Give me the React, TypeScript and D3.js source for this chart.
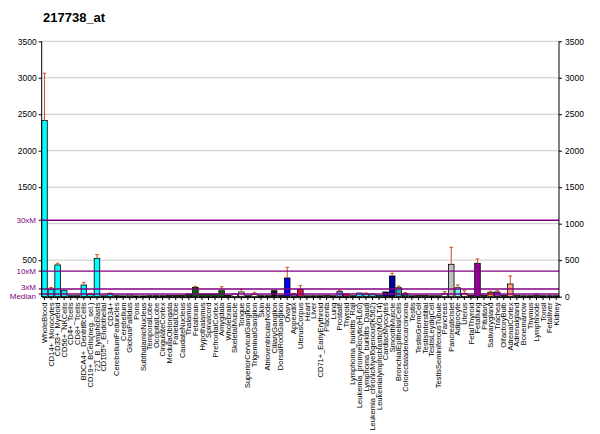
import React, { useEffect, useRef } from 'react'
import * as d3 from 'd3'

const title = '217738_at'

const tissues = [
  'WholeBlood', 'CD14+_Monocytes', 'CD33+_Myeloid', 'CD56+_NKCells', 'CD4+_Tcells', 'CD8+_Tcells',
  'BDCA4+_DentriticCells', 'CD19+_BCells(neg._sel.)', '721_B_lymphoblasts', 'CD105+_Endothelial', 'CD34+',
  'CerebellumPeduncles', 'Cerebellum', 'GlobusPallidus', 'Pons', 'SubthalamicNucleus', 'TemporalLobe',
  'OccipitalLobe', 'CingulateCortex', 'MedullaOblongata', 'ParietalLobe', 'CaudateNucleus', 'Thalamus',
  'Fetalbrain', 'Hypothalamus', 'Spinalcord', 'PrefrontalCortex', 'Amygdala', 'Wholebrain',
  'SkeletalMuscle', 'Tongue', 'SuperiorCervicalGanglion', 'TrigeminalGanglion', 'Skin',
  'AtrioventricularNode', 'CiliaryGanglion', 'DorsalRootGanglion', 'Ovary', 'Appendix', 'UterusCorpus',
  'Heart', 'Liver', 'CD71+_EarlyErythroid', 'Placenta', 'Lung', 'Prostate', 'Thyroid',
  'Lymphoma_burkitts_Raji', 'Leukemia_promyelocytic(HL60)', 'Lymphoma_burkitts_Daudi',
  'Leukemia_chronicMyelogenous(K562)', 'Leukemialymphoblastic(MOLT4)', 'CardiacMyocytes', 'SmoothMuscle',
  'BronchialEpithelialCells', 'Colorectaladenocarcinoma', 'Testis', 'TestisGermCell', 'TestisInterstitial',
  'TestisLeydigCell', 'TestisSeminiferousTubule', 'Pancreas', 'PancreaticIslet', 'Adipocyte', 'Uterus',
  'FetalThyroid', 'Fetallung', 'Pituitary', 'Salivarygland', 'Trachea', 'OlfactoryBulb', 'AdrenalCortex',
  'Adrenalgland', 'Bonemarrow', 'Thymus', 'Lymphnode', 'Tonsil', 'Fetalliver', 'Kidney',
]

const values = [
  2413, 100, 434, 81, 12, 12, 159, 31, 525, 12, 36,
  12, 10, 22, 10, 10, 12, 12, 12, 14, 14, 14, 36, 127, 36, 36, 36, 81, 17,
  36, 63, 12, 31, 12, 12, 81, 14, 255, 31, 100, 12, 12, 12, 17, 12, 68, 36,
  12, 49, 36, 26, 17, 63, 283, 122, 40, 12, 17, 17, 12, 12, 45, 443, 122, 45,
  17, 457, 17, 59, 63, 17, 173, 17, 12, 12, 17, 12, 12, 12,
]

// top of the error whisker, null where none is drawn
const errTops: (number | null)[] = [
  3063, 125, 457, null, null, null, 196, 45, 575, null, 49,
  null, null, null, null, null, null, null, null, null, null, null, null, 141, null, null, null, 136, null,
  null, 100, null, 59, null, null, null, null, 402, 45, 150, null, null, null, null, null, 85, null,
  null, null, 50, 40, null, null, 320, 145, 55, null, null, null, null, null, 68, 676, 159, 81,
  null, 516, 40, 75, 80, null, 283, null, null, null, 40, null, null, null,
]

const colors = [
  '#00FFFF', '#00FFFF', '#00FFFF', '#00FFFF', '#00FFFF', '#00FFFF', '#00FFFF', '#00FFFF', '#00FFFF', '#00FFFF', '#00FFFF',
  '#006600', '#006600', '#CC99CC', '#006600', '#006600', '#006600', '#006600', '#006600', '#006600', '#006600',
  '#006600', '#004400', '#006600', '#006600', '#006600', '#006600', '#006600', '#003300',
  '#FFFFFF', '#E6E0F0', '#333333', '#F0F0F0', '#222222', '#333333', '#111111', '#333333', '#0000FF',
  '#9933CC', '#DC143C', '#E8C8D0', '#B8A080', '#A0A0A0', '#B8860B', '#C8A8E0', '#6495ED', '#DC143C',
  '#00FFFF', '#00FFFF', '#40E0D0', '#00FFFF', '#00FFFF', '#000080', '#0000A0', '#20B2AA', '#006666',
  '#C8A8E0', '#808000', '#808000', '#C8A8E0', '#C8A8E0', '#E6E6FA', '#C0C0C0', '#66FFEE', '#FFE4B5',
  '#CC00CC', '#990099', '#228B22', '#FF9900', '#9933CC', '#800040', '#FFA07A', '#D2B48C', '#C8A8E0',
  '#C8A8E0', '#228B22', '#4169E1', '#9933CC', '#C8A8E0',
]

const leftTicks = [3500, 3000, 2500, 2000, 1500, 500]
const rightTicks = [3500, 3000, 2500, 2000, 1500, 1000, 500, 0]
const gridTicks = [500, 1000, 1500, 2000, 2500, 3000, 3500]

const median = 34.9
const refLines = [
  { label: 'Median', value: median, dy: 2 },
  { label: '3xM', value: median * 3, dy: -2 },
  { label: '10xM', value: median * 10, dy: 0 },
  { label: '30xM', value: median * 30, dy: 0 },
]

const font = '"Liberation Sans", Arial, sans-serif'
const purple = '#800080'

export default function App() {
  const svgRef = useRef<SVGSVGElement>(null)

  useEffect(() => {
    if (!svgRef.current) return
    const svg = d3.select(svgRef.current)
    svg.selectAll('*').remove()

    const left = 41.7
    const right = 559
    const top = 41.3
    const bottom = 296.6

    const x = d3.scaleBand().domain(tissues).range([left, right]).paddingInner(0.15).paddingOuter(0).align(0)
    const y = d3.scaleLinear().domain([0, 3500]).range([bottom, top])

    svg.append('text')
      .attr('x', 43)
      .attr('y', 22)
      .style('font-family', font)
      .style('font-size', '13px')
      .style('font-weight', 'bold')
      .text(title)

    // grid
    svg.append('g')
      .selectAll('line')
      .data(gridTicks)
      .join('line')
      .attr('x1', left)
      .attr('x2', right)
      .attr('y1', (d) => y(d))
      .attr('y2', (d) => y(d))
      .attr('stroke', '#C8C8C8')
      .attr('stroke-width', 1)

    // bars
    svg.append('g')
      .selectAll('rect')
      .data(tissues)
      .join('rect')
      .attr('x', (d) => x(d) || 0)
      .attr('y', (d, i) => y(values[i]))
      .attr('width', x.bandwidth())
      .attr('height', (d, i) => bottom - y(values[i]))
      .attr('fill', (d, i) => colors[i])
      .attr('stroke', '#000')
      .attr('stroke-width', 0.8)

    // error whiskers
    const errG = svg.append('g').attr('stroke', '#C8501E').attr('stroke-width', 1)
    tissues.forEach((t, i) => {
      const e = errTops[i]
      if (e == null) return
      const cx = (x(t) || 0) + x.bandwidth() / 2
      errG.append('line').attr('x1', cx).attr('x2', cx).attr('y1', y(values[i])).attr('y2', y(e))
      errG.append('line').attr('x1', cx - 1.8).attr('x2', cx + 1.8).attr('y1', y(e)).attr('y2', y(e))
    })

    // median multiples
    svg.append('g')
      .selectAll('line')
      .data(refLines)
      .join('line')
      .attr('x1', left)
      .attr('x2', right)
      .attr('y1', (d) => y(d.value))
      .attr('y2', (d) => y(d.value))
      .attr('stroke', purple)
      .attr('stroke-width', 1.4)

    svg.append('g')
      .selectAll('line')
      .data(refLines)
      .join('line')
      .attr('x1', left - 3)
      .attr('x2', left)
      .attr('y1', (d) => y(d.value))
      .attr('y2', (d) => y(d.value))
      .attr('stroke', '#000')

    svg.append('g')
      .selectAll('text')
      .data(refLines)
      .join('text')
      .attr('x', 36)
      .attr('y', (d) => y(d.value) + d.dy)
      .attr('dy', '0.35em')
      .attr('text-anchor', 'end')
      .style('font-family', font)
      .style('font-size', '8px')
      .style('fill', purple)
      .text((d) => d.label)

    // left axis
    const yl = svg.append('g').attr('transform', `translate(${left},0)`)
      .call(d3.axisLeft(y).tickValues(leftTicks).tickSize(3).tickFormat((d) => String(d)))
    yl.select('.domain').remove()
    yl.selectAll('text').style('font-family', font).style('font-size', '8.5px').attr('x', -5)

    svg.append('line').attr('x1', left).attr('x2', left).attr('y1', top).attr('y2', bottom + 0.5)
      .attr('stroke', '#000')

    // right axis
    const yr = svg.append('g').attr('transform', `translate(${right},0)`)
      .call(d3.axisRight(y).tickValues(rightTicks).tickSize(3).tickFormat((d) => String(d)))
    yr.select('.domain').remove()
    yr.selectAll('text').style('font-family', font).style('font-size', '8.5px').attr('x', 6)

    svg.append('line').attr('x1', right).attr('x2', right).attr('y1', top).attr('y2', bottom + 0.5)
      .attr('stroke', '#000')

    // bottom axis
    const xa = svg.append('g').attr('transform', `translate(0,${bottom + 0.5})`)
      .call(d3.axisBottom(x).tickSize(3).tickSizeOuter(0))
    xa.select('.domain').attr('stroke', '#000')
    xa.selectAll('text')
      .attr('transform', 'rotate(-90)')
      .attr('x', -5.5)
      .attr('y', 0)
      .attr('dy', '0.35em')
      .attr('text-anchor', 'end')
      .style('font-family', font)
      .style('font-size', '7.5px')
  }, [])

  return (
    <div style={{ position: 'absolute', left: 0, top: 0 }}>
      <svg ref={svgRef} width={600} height={434} style={{ display: 'block', background: '#fff' }} />
    </div>
  )
}
